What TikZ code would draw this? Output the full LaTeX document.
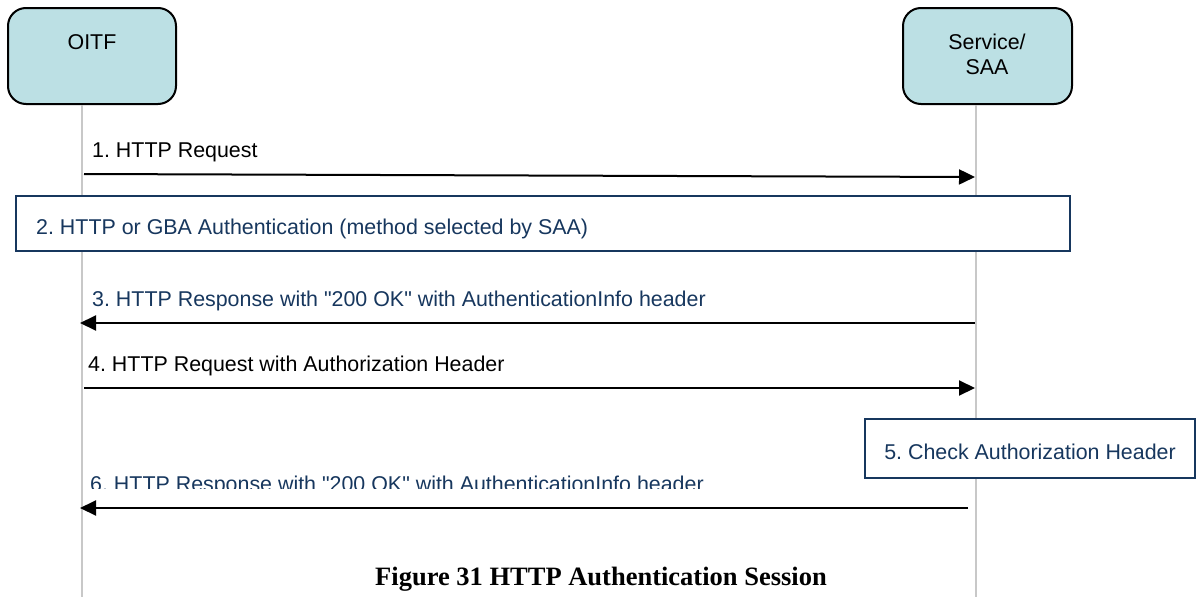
\documentclass[tikz,border=0pt]{standalone}
\usepackage{fontspec}
\setmainfont{Liberation Sans}
\newfontfamily\capfont{Liberation Serif}
\usetikzlibrary{arrows.meta}
\definecolor{actorfill}{RGB}{188,224,228}
\definecolor{navy}{RGB}{23,55,94}
\definecolor{lifegray}{RGB}{200,200,200}
\tikzset{
  actor/.style={draw=black, line width=2pt, fill=actorfill, rounded corners=18pt, inner sep=0pt},
  actortext/.style={anchor=north, align=center, inner sep=0pt, font=\fontsize{21.4}{25}\selectfont},
  lifeline/.style={draw=lifegray, line width=2pt},
  msg/.style={draw=black, line width=2pt, -{Triangle[length=16pt,width=15pt]}},
  lbl/.style={anchor=base west, inner sep=0pt, font=\fontsize{21.4}{25}\selectfont},
  note/.style={draw=navy, line width=2pt, fill=white, inner sep=0pt},
  notetext/.style={anchor=base west, inner sep=0pt, text=navy, font=\fontsize{21.4}{25}\selectfont},
}
\frenchspacing
\begin{document}
\begin{tikzpicture}[x=1pt,y=-1pt]
\useasboundingbox (0,0) rectangle (1196,597);
% actors
\node[actor, minimum width=168pt, minimum height=96pt] (oitf) at (92,56) {};
\node[actortext] (oitfT) at (92,34) {OITF};
\node[actor, minimum width=169pt, minimum height=96pt] (saa) at (987.5,56) {};
\node[actortext] (saaT) at (987,34) {Service/\\SAA};
% lifelines
\coordinate (l1a) at (82,105);
\coordinate (l1b) at (82,597);
\coordinate (l2a) at (976,105);
\coordinate (l2b) at (976,597);
\draw[lifeline] (l1a) -- (l1b);
\draw[lifeline] (l2a) -- (l2b);
% 1
\coordinate (m1s) at (84,174);
\coordinate (m1e) at (975,177);
\draw[msg] (m1s) -- (m1e);
\node[lbl] (t1) at (92,157) {1. HTTP Request};
% 2
\node[note, minimum width=1054pt, minimum height=55pt] (n2) at (543,223.5) {};
\node[notetext] (t2) at (36,234) {2. HTTP or GBA Authentication (method selected by SAA)};
% 3
\coordinate (m3s) at (975,323);
\coordinate (m3e) at (80,323);
\draw[msg] (m3s) -- (m3e);
\node[lbl, text=navy] (t3) at (92,306) {3. HTTP Response with \textquotedbl 200 OK\textquotedbl{} with AuthenticationInfo header};
% 4
\coordinate (m4s) at (84,388);
\coordinate (m4e) at (975,388);
\draw[msg] (m4s) -- (m4e);
\node[lbl] (t4) at (88,371) {4. HTTP Request with Authorization Header};
% 5
\node[note, minimum width=330pt, minimum height=59pt] (n5) at (1030,448.5) {};
\node[notetext, anchor=base] (t5) at (1030,459) {5. Check Authorization Header};
% 6
\coordinate (m6s) at (968,508);
\coordinate (m6e) at (80,508);
\draw[msg] (m6s) -- (m6e);
\begin{scope}
\clip (60,460) rectangle (900,488);
\node[lbl, text=navy] (t6) at (90,491) {6. HTTP Response with \textquotedbl 200 OK\textquotedbl{} with AuthenticationInfo header};
\end{scope}
% caption
\node[anchor=base, inner sep=0pt, font=\capfont\bfseries\fontsize{26.5}{30}\selectfont] (cap) at (601,585) {Figure 31 HTTP Authentication Session};
\end{tikzpicture}
\end{document}
